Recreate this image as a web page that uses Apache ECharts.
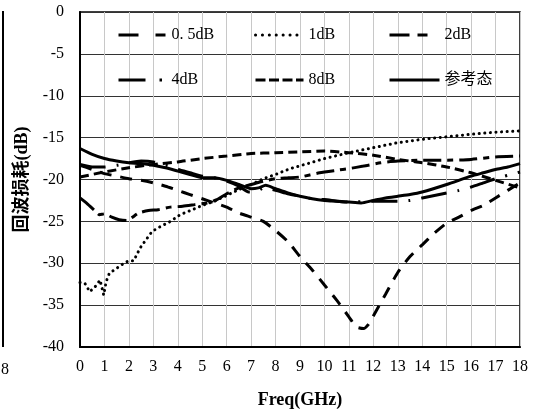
<!DOCTYPE html>
<html>
<head>
<meta charset="utf-8">
<script src="https://cdn.jsdelivr.net/npm/echarts@6/dist/echarts.min.js"></script>
<style>
html,body{margin:0;padding:0;background:#fff;}
#chart{width:534px;height:415px;}
</style>
</head>
<body>
<div id="chart"></div>
<script>
// ---- data ----
const xTicks = [0,1,2,3,4,5,6,7,8,9,10,11,12,13,14,15,16,17,18];
const yTicks = [0,-5,-10,-15,-20,-25,-30,-35,-40];

const seriesNames = ['0. 5dB','1dB','2dB','4dB','8dB','参考态'];

const freq05 = [0,0.3,0.6,0.8,1.0,1.3,1.6,1.9,2.1,2.4,2.8,3.2,3.7,4.2,4.7,5.2,5.6,6.0,6.5,7.0,7.5,8.0,8.5,9.0,9.8,10.5,11.0,11.6,12.3,13.0,14.0,15.0,16.0,17.0,18.0];
const val05  = [-22.2,-22.9,-23.7,-24.2,-24.1,-24.5,-24.8,-24.9,-24.6,-24.0,-23.7,-23.6,-23.3,-23.2,-23.0,-22.8,-22.4,-21.7,-21.0,-20.6,-20.2,-19.9,-19.8,-19.7,-19.2,-18.9,-18.7,-18.4,-18.0,-17.8,-17.7,-17.7,-17.6,-17.3,-17.2];

const freq1 = [0,0.2,0.4,0.65,0.82,0.97,1.07,1.2,1.5,1.8,2.0,2.2,2.35,2.5,2.7,2.95,3.3,3.7,4.1,4.6,5.0,5.5,6.0,6.5,7.0,7.5,8.0,8.6,9.2,10,11,12,13,14,15,16,17,18];
const val1  = [-32.3,-32.4,-33.4,-32.7,-32.0,-33.8,-32.2,-31.2,-30.6,-30.0,-29.7,-29.7,-28.8,-28.0,-27.2,-26.2,-25.6,-25.0,-24.2,-23.6,-23.1,-22.6,-21.9,-21.2,-20.6,-19.9,-19.4,-18.7,-18.2,-17.5,-16.8,-16.2,-15.6,-15.2,-14.9,-14.6,-14.35,-14.2];

const freq2 = [0,0.5,1,1.5,2,2.5,3,3.5,4,4.5,5,5.5,6,6.5,7,7.5,8,8.5,9,9.5,10,10.5,11,11.3,11.6,11.8,12,12.5,13,13.5,14,14.5,15,15.5,16,16.5,17,17.5,18];
const val2  = [-18.3,-18.8,-19.3,-19.6,-19.9,-20.1,-20.4,-20.8,-21.3,-21.8,-22.3,-22.8,-23.3,-24.0,-24.5,-25.0,-26.1,-27.4,-29.2,-30.8,-32.6,-34.4,-36.4,-37.6,-37.8,-37.3,-36.3,-33.7,-31.1,-29.2,-27.8,-26.4,-25.2,-24.5,-23.7,-23.1,-22.2,-21.3,-20.4];

const freq4 = [0,0.5,1,1.5,2,2.5,3,3.5,4,4.5,5,5.5,6,6.5,6.9,7.2,7.5,8,8.5,9,9.5,10,11,12,12.5,13,13.5,14,14.5,15,15.5,16,16.5,17,17.5,18];
const val4  = [-18.2,-18.5,-18.5,-18.3,-18.0,-17.8,-17.9,-18.3,-18.8,-19.2,-19.6,-19.8,-20.2,-20.8,-21.5,-21.5,-21.0,-21.3,-21.7,-22.0,-22.3,-22.4,-22.7,-22.6,-22.6,-22.6,-22.5,-22.2,-21.9,-21.6,-21.3,-20.9,-20.4,-19.9,-19.5,-19.1];

const freq8 = [0,1,2,3,4,5,6,7,8,9,10,11,12,13,14,15,16,17,18];
const val8  = [-19.7,-19.1,-18.6,-18.2,-17.9,-17.5,-17.2,-16.9,-16.8,-16.7,-16.6,-16.8,-17.1,-17.6,-18.0,-18.5,-19.2,-20.1,-21.0];

const freqRef = [0,0.5,1,1.5,2,2.5,3,3.5,4,4.5,5,5.5,6,6.5,7,7.3,7.6,8,8.5,9,9.5,10,10.5,11,11.5,12,12.5,13,13.5,14,15,16,16.5,17,17.5,18];
const valRef  = [-16.3,-17.0,-17.5,-17.8,-18.0,-18.1,-18.3,-18.6,-19.0,-19.4,-19.8,-19.8,-20.1,-20.6,-21.1,-21.0,-20.7,-21.1,-21.6,-22.0,-22.3,-22.5,-22.6,-22.7,-22.8,-22.5,-22.2,-22.0,-21.8,-21.5,-20.6,-19.6,-19.2,-18.8,-18.5,-18.1];

const legendColumns = [['0. 5dB','4dB'],['1dB','8dB'],['2dB','参考态']];

// ---- styles ----
const serif = '"Liberation Serif","Times New Roman","Noto Sans CJK SC",serif';
const styles = {
  '0. 5dB': {type:[18,6,6,6], width:3, smooth:0.2},
  '1dB':    {type:[0.1,5.5], width:3, cap:'round', smooth:false},
  '2dB':    {type:[12,9], width:3, smooth:0.2},
  '4dB':    {type:[26,11,2,11], width:3, smooth:0.2},
  '8dB':    {type:[9,5], width:3, smooth:0.2},
  '参考态':  {type:'solid', width:3, smooth:0.2}
};
// legend sample dash patterns (drawn larger in the legend, as in the reference)
const legendDash = {
  '0. 5dB': {type:[20,17,10,200], cap:'butt'},
  '1dB':    {type:[0.1,6.8], cap:'round'},
  '2dB':    {type:[20,8,10,200], cap:'butt'},
  '4dB':    {type:[27,14,2.5,200], cap:'butt'},
  '8dB':    {type:[10,3.5], cap:'butt'},
  '参考态':  {type:'solid', cap:'butt'}
};
const pairs = (xs, ys) => xs.map((x,i)=>[x, ys[i]]);
const dataMap = {
  '0. 5dB': pairs(freq05, val05),
  '1dB': pairs(freq1, val1),
  '2dB': pairs(freq2, val2),
  '4dB': pairs(freq4, val4),
  '8dB': pairs(freq8, val8),
  '参考态': pairs(freqRef, valRef)
};

const chart = echarts.init(document.getElementById('chart'), null, {renderer:'canvas'});
const option = {
  animation:false,
  backgroundColor:'#fff',
  grid:{left:80, right:14, top:12, bottom:68, show:true, borderColor:'#000', borderWidth:1.5, containLabel:false},
  xAxis:{
    type:'value', min:xTicks[0], max:xTicks[xTicks.length-1], interval:1,
    name:'Freq(GHz)', nameLocation:'middle', nameGap:44,
    nameTextStyle:{fontFamily:serif, fontSize:18, fontWeight:'bold', color:'#000'},
    axisLine:{show:true, onZero:false, lineStyle:{color:'#000', width:2}},
    axisTick:{show:false},
    axisLabel:{fontFamily:serif, fontSize:16, color:'#000', margin:12},
    splitLine:{show:true, lineStyle:{color:'#c8c8c8', width:1}}
  },
  yAxis:{
    type:'value', min:yTicks[yTicks.length-1], max:yTicks[0], interval:5,
    name:'回波损耗(dB)', nameLocation:'middle', nameGap:46, nameRotate:90,
    nameTextStyle:{fontFamily:serif, fontSize:18, fontWeight:'bold', color:'#000'},
    axisLine:{show:true, onZero:false, lineStyle:{color:'#000', width:2}},
    axisTick:{show:false},
    axisLabel:{fontFamily:serif, fontSize:16, color:'#000', margin:16},
    splitLine:{show:true, lineStyle:{color:'#333', width:1}}
  },
  legend: legendColumns.map((names,i)=>({
    orient:'vertical', left:[112,249,383][i], top:20,
    itemWidth:[48,48,50][i], itemHeight:20, itemGap:25, selectedMode:false,
    data:names.map(n=>({name:n, lineStyle:{width:3, color:'#000', type:legendDash[n].type, cap:legendDash[n].cap}})),
    itemStyle:{opacity:0},
    lineStyle:{width:3, color:'#000'},
    textStyle:{fontFamily:serif, fontSize:16, color:'#000', lineHeight:20}
  })),
  graphic:[
    {type:'line', shape:{x1:3, y1:11, x2:3, y2:347}, style:{stroke:'#000', lineWidth:2}},
    {type:'text', left:1, top:362, style:{text:'8', font:'16px "Liberation Serif", serif', fill:'#000'}}
  ],
  series: seriesNames.map(name=>({
    name, type:'line', data:dataMap[name],
    symbol:'none', showSymbol:false,
    smooth:styles[name].smooth,
    color:'#000',
    lineStyle:{color:'#000', width:styles[name].width, type:styles[name].type, cap:styles[name].cap||'butt'}
  }))
};
chart.setOption(option);
</script>
</body>
</html>
